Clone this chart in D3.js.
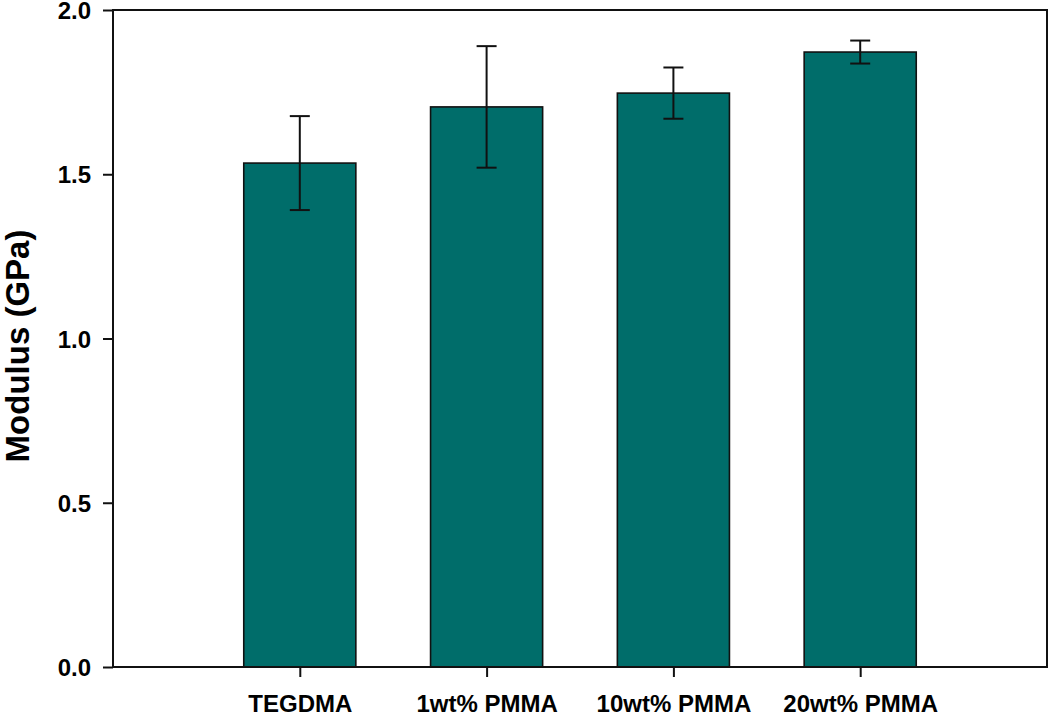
<!DOCTYPE html>
<html><head><meta charset="utf-8">
<script src="https://cdn.jsdelivr.net/npm/d3@7"></script>
<style>body{margin:0;background:#fff}svg{display:block}text{font-family:"Liberation Sans",Arial,sans-serif;font-weight:bold;fill:#000}</style>
</head><body><svg id="c" width="1050" height="716"></svg>
<script>
const categories = ["TEGDMA", "1wt% PMMA", "10wt% PMMA", "20wt% PMMA"];
const modulus = [1.534, 1.705, 1.747, 1.872];
const errors = [0.143, 0.185, 0.078, 0.035];
const yTicks = [0.0, 0.5, 1.0, 1.5, 2.0];

const svg = d3.select("#c");
const L = 113, R = 1047, T = 10, B = 667;
const x = d3.scaleLinear().domain([0, categories.length + 1]).range([L, R]);
const y = d3.scaleLinear().domain([0, 2]).range([B, T]);
const step = x(1) - x(0);
const bw = step * 0.6;

// bars
svg.append("g").selectAll("rect").data(categories).join("rect")
  .attr("x", (d, i) => x(i + 1) - bw / 2)
  .attr("y", (d, i) => y(modulus[i]))
  .attr("width", bw)
  .attr("height", (d, i) => y(0) - y(modulus[i]))
  .attr("fill", "#006d6a")
  .attr("stroke", "#111")
  .attr("stroke-width", 1.6);

// error bars
const eg = svg.append("g").attr("stroke", "#111").attr("stroke-width", 2);
categories.forEach((c, i) => {
  const cx = x(i + 1), hi = y(modulus[i] + errors[i]), lo = y(modulus[i] - errors[i]);
  eg.append("line").attr("x1", cx).attr("x2", cx).attr("y1", hi).attr("y2", lo);
  eg.append("line").attr("x1", cx - 10).attr("x2", cx + 10).attr("y1", hi).attr("y2", hi);
  eg.append("line").attr("x1", cx - 10).attr("x2", cx + 10).attr("y1", lo).attr("y2", lo);
});

// frame
svg.append("rect").attr("x", L).attr("y", T).attr("width", R - L).attr("height", B - T)
  .attr("fill", "none").attr("stroke", "#111").attr("stroke-width", 2);

// y axis
const ya = svg.append("g").attr("transform", `translate(${L},0)`)
  .call(d3.axisLeft(y).tickValues(yTicks).tickFormat(d3.format(".1f")).tickSize(10).tickPadding(12));
ya.select(".domain").remove();
ya.selectAll("line").attr("stroke", "#111").attr("stroke-width", 2);
ya.selectAll("text").attr("font-size", 24).attr("font-family", "Liberation Sans, Arial, sans-serif").attr("font-weight", "bold").attr("fill", "#000").attr("dy", "0.36em");

// x axis
const xa = svg.append("g").attr("transform", `translate(0,${B})`)
  .call(d3.axisBottom(x).tickValues(categories.map((c, i) => i + 1)).tickFormat((d) => categories[d - 1]).tickSize(10).tickPadding(18));
xa.select(".domain").remove();
xa.selectAll("line").attr("stroke", "#111").attr("stroke-width", 2);
xa.selectAll("text").attr("font-size", 24).attr("font-family", "Liberation Sans, Arial, sans-serif").attr("font-weight", "bold").attr("fill", "#000");

// y title
svg.append("text").attr("transform", `translate(29,346) rotate(-90)`)
  .attr("text-anchor", "middle").attr("font-size", 33).text("Modulus (GPa)");
</script></body></html>
